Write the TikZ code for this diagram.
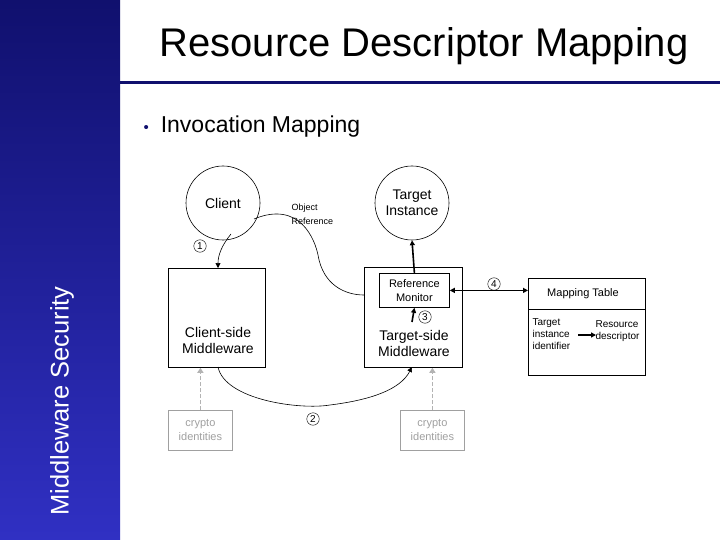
\documentclass[tikz,border=0pt]{standalone}
\usepackage{fontspec}
\setmainfont{Liberation Sans}
\usetikzlibrary{arrows.meta}
\definecolor{navy}{RGB}{16,16,110}
\definecolor{navyb}{RGB}{48,48,195}
\definecolor{cgrey}{RGB}{160,160,160}
\begin{document}
\begin{tikzpicture}[x=1pt,y=-1pt,
  box/.style={draw,line width=0.8pt,fill=white},
  circ/.style={draw,circle,line width=0.6pt,minimum size=74pt,inner sep=0pt,align=center,font=\fontsize{14}{16}\selectfont},
  num/.style={circle,draw,inner sep=0pt,minimum size=12.5pt,font=\fontsize{10}{10}\selectfont},
  thin/.style={line width=0.6pt,-{Triangle[width=5pt,length=5pt]}},
  thick/.style={line width=1.6pt,-{Triangle[width=5pt,length=5pt]}},
  grey/.style={draw=cgrey,line width=0.8pt}]
\useasboundingbox (0,0) rectangle (720,540);
\fill[white] (0,0) rectangle (720,540);
\shade[top color=navy,bottom color=navyb] (0,0) rectangle (120,540);
\fill[navy] (120,81.5) rectangle (720,84.5);
\node[font=\fontsize{40}{40}\selectfont] (title) at (424,46) {Resource Descriptor Mapping};
\node[anchor=west,font=\fontsize{23}{26}\selectfont] (bul) at (140,127) {{\color{navy}\fontsize{15}{15}\selectfont\textbullet}\hspace{12pt}Invocation Mapping};
\node[rotate=90,text=white,font=\fontsize{25.5}{26}\selectfont] (side) at (62,401) {Middleware Security};
% boxes
\node[circ] (client) at (223,203) {Client};
\node[circ] (target) at (412,203) {Target\\Instance};
\node[box,minimum width=97pt,minimum height=99pt,anchor=north west,inner sep=0pt] (cbox) at (168,268) {};
\node[align=center,font=\fontsize{14}{16}\selectfont] (ctext) at (218,340) {Client-side\\Middleware};
\node[box,minimum width=98pt,minimum height=100pt,anchor=north west,inner sep=0pt] (tbox) at (364,267) {};
\node[align=center,font=\fontsize{14}{16}\selectfont] (ttext) at (414,343) {Target-side\\Middleware};
\node[box,minimum width=70pt,minimum height=34pt,anchor=north west,inner sep=0pt,align=center,font=\fontsize{11}{14}\selectfont] (rm) at (379,273) {Reference\\Monitor};
\node[box,minimum width=117pt,minimum height=97pt,anchor=north west,inner sep=0pt] (mt) at (528,278) {};
\draw[line width=0.8pt] (528,309) -- (645,309);
\node[font=\fontsize{11}{12}\selectfont] (mtt) at (583,294) {Mapping Table};
\node[anchor=west,align=left,font=\fontsize{10}{12}\selectfont] (tii) at (529,334) {Target\\instance\\identifier};
\node[anchor=west,align=left,font=\fontsize{10}{12}\selectfont] (rd) at (592,331) {Resource\\descriptor};
\draw[line width=1.2pt,-{Triangle[width=5pt,length=5pt]}] (578,335) -- (596,335);
\node[grey,minimum width=64pt,minimum height=40pt,anchor=north west,inner sep=0pt,align=center,text=cgrey,font=\fontsize{11}{14}\selectfont] (cr1) at (168,410) {crypto\\identities};
\node[grey,minimum width=64pt,minimum height=40pt,anchor=north west,inner sep=0pt,align=center,text=cgrey,font=\fontsize{11}{14}\selectfont] (cr2) at (400,410) {crypto\\identities};
\draw[cgrey!80,line width=1.8pt,dash pattern=on 4pt off 2pt,-{Triangle[width=6pt,length=5pt]}] (cr1.north) -- (cr1.north |- cbox.south);
\draw[cgrey!80,line width=1.8pt,dash pattern=on 4pt off 2pt,-{Triangle[width=6pt,length=5pt]}] (cr2.north) -- (cr2.north |- tbox.south);
\node[anchor=west,align=left,font=\fontsize{9}{14}\selectfont] (oref) at (288,214) {Object\\Reference};
% connectors
\coordinate (c1) at (231,234);
\coordinate (c1e) at (218,268);
\draw[thin] (c1) .. controls (222,245) and (218,255) .. (c1e);
\coordinate (orS) at (254,219);
\coordinate (orE) at (364,295);
\draw[line width=0.6pt] (orS) .. controls (300,200) and (315,240) .. (318,255) .. controls (323,285) and (345,295) .. (orE);
\coordinate (a2s) at (218,367);
\coordinate (a2e) at (412,367);
\draw[thin] (a2s) .. controls (225,400) and (300,410) .. (330,405) .. controls (370,400) and (400,390) .. (a2e);
\draw[thick] (rm.north) -- (target.south);
\coordinate (a3) at (412,322);
\draw[thick] (a3) -- (rm.south);
\draw[line width=1.6pt,{Triangle[width=5pt,length=5pt]}-{Triangle[width=5pt,length=5pt]}] (rm.east) -- (rm.east -| mt.west);
\node[num] (n1) at (200,246) {1};
\node[num] (n2) at (313,419) {2};
\node[num] (n3) at (425,317) {3};
\node[num] (n4) at (494,284) {4};
\end{tikzpicture}
\end{document}
